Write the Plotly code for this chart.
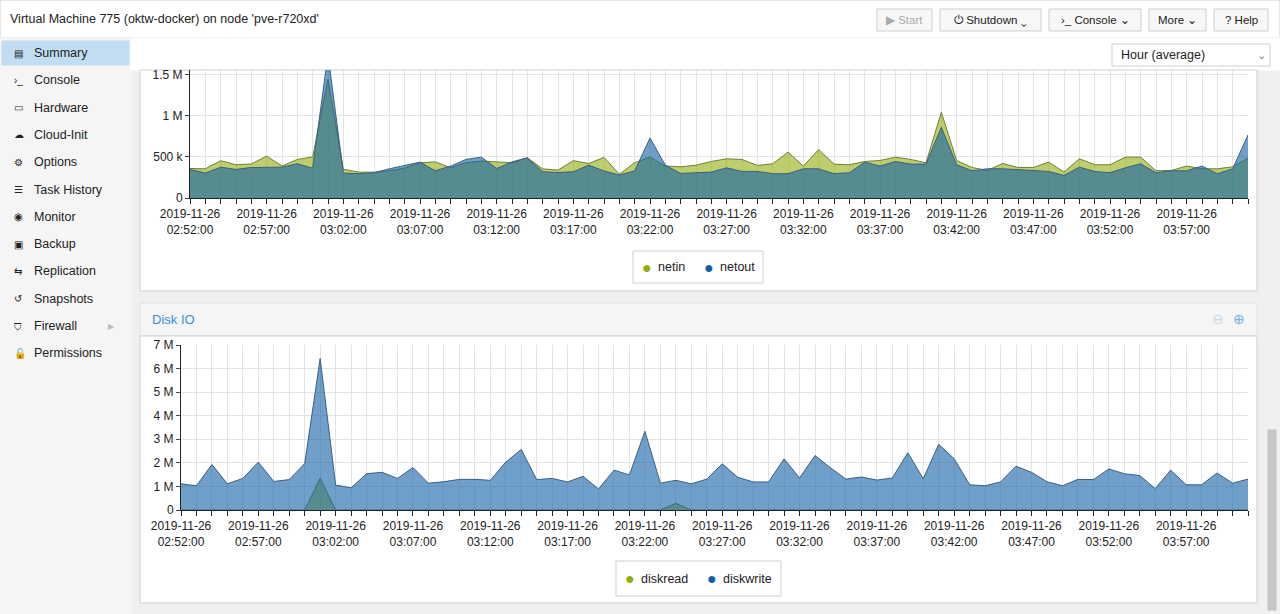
import pandas as pd
import numpy as np
import plotly.graph_objects as go

W, H = 1280, 614

def px(x):
    return x / W

def py(y):
    return 1 - y / H

def box(fig, x0, y0, x1, y1, fill="white", line="#cfcfcf"):
    fig.add_shape(type="rect", xref="paper", yref="paper", x0=px(x0), y0=py(y0), x1=px(x1), y1=py(y1),
                  fillcolor=fill, line=dict(color=line, width=1), layer="below")

def text(fig, x, y, s, size=12, color="#222", anchor="left"):
    fig.add_annotation(xref="paper", yref="paper", x=px(x), y=py(y), text=s, showarrow=False,
                       xanchor=anchor, yanchor="middle", font=dict(size=size, color=color))

def chrome(fig):
    # page frame
    box(fig, 0, 0, 1280, 614, fill="#f0f0f0", line="#f0f0f0")
    box(fig, 0, 0, 1280, 38, fill="white", line="#d0d0d0")
    text(fig, 8, 19, "Virtual Machine 775 (oktw-docker) on node 'pve-r720xd'", 12.5)
    for x0, x1, s, c in [(877, 932, "▶ Start", "#aaa"), (940, 1041, "⏻ Shutdown ⌄", "#222"),
                         (1049, 1141, "›_ Console ⌄", "#222"), (1149, 1206, "More ⌄", "#222"),
                         (1214, 1268, "? Help", "#222")]:
        box(fig, x0, 9, x1, 31, fill="#f7f7f7", line="#cfcfcf")
        text(fig, (x0 + x1) / 2, 20, s, 11.5, c, "center")
    # sidebar
    box(fig, 0, 38, 131, 614, fill="#f5f5f5", line="#f5f5f5")
    box(fig, 2, 41, 129, 65, fill="#c2ddf2", line="#c2ddf2")
    items = ["Summary", "Console", "Hardware", "Cloud-Init", "Options", "Task History", "Monitor",
             "Backup", "Replication", "Snapshots", "Firewall", "Permissions"]
    icons = ["▤", "›_", "▭", "☁", "⚙", "☰", "◉", "▣", "⇆", "↺", "⛉", "🔓"]
    for i, (s, ic) in enumerate(zip(items, icons)):
        y = 53 + i * 27.3
        text(fig, 12, y, ic, 10)
        text(fig, 32, y, s, 12.5)
    text(fig, 111, 326, "▶", 8, "#bbb", "center")
    # toolbar
    box(fig, 131, 38, 1280, 70, fill="white", line="white")
    box(fig, 1112, 44, 1270, 66, fill="white", line="#cfcfcf")
    text(fig, 1119, 55, "Hour (average)", 12.5)
    text(fig, 1261, 55, "⌄", 11, "#888", "center")
    # panels
    box(fig, 140, 70, 1257, 291)
    box(fig, 140, 303, 1257, 336, fill="#f5f5f5", line="#e0e0e0")
    text(fig, 150, 319, "Disk IO", 13, "#3892d4")
    text(fig, 1218, 319, "⊖", 14, "#c8d8e8", "center")
    text(fig, 1239, 319, "⊕", 14, "#7aaedc", "center")
    box(fig, 140, 336, 1257, 603)
    # scrollbar
    box(fig, 1268, 430, 1276, 610, fill="#c6c6c6", line="#c6c6c6")

def legend(fig, x0, x1, y0, y1, names):
    box(fig, x0, y0, x1, y1, fill="white", line="#cfcfcf")
    x = x0 + 14
    for n, c in names:
        text(fig, x, (y0 + y1) / 2, "●", 16, c, "center")
        text(fig, x + 9, (y0 + y1) / 2, n, 12.5)
        x += 62 if n == "netin" else 82

times = pd.date_range("2019-11-26 02:52:00", periods=70, freq="min")

netin = [360, 355, 455, 405, 415, 510, 390, 470, 500, 1450, 350, 315, 315, 330, 365, 430, 440, 370, 430, 450,
         440, 430, 490, 355, 340, 455, 420, 495, 290, 430, 500, 390, 380, 400,
         445, 478, 470, 397, 417, 559, 389, 591, 413, 405, 445, 457, 498, 470, 429, 1045, 457, 372,
         336, 421, 372, 372, 437, 316, 478, 405, 405, 498, 498, 332, 336, 389, 356, 356, 380, 486]
netout = [348, 304, 376, 348, 372, 376, 376, 417, 364, 1750, 304, 296, 308, 356, 400, 437, 332, 389, 470, 498,
          360, 440, 490, 320, 310, 320, 400, 330, 280, 330, 730, 400, 300, 310,
          316, 368, 324, 324, 296, 296, 356, 356, 296, 308, 437, 389, 445, 413, 413, 862, 405, 332,
          356, 356, 348, 336, 324, 275, 376, 324, 308, 368, 417, 308, 332, 332, 389, 296, 356, 769]
diskwrite = [1.11, 1.03, 1.93, 1.11, 1.34, 2.03, 1.21, 1.29, 1.97, 6.43, 1.06, 0.94, 1.54, 1.6, 1.34, 1.8,
             1.14, 1.2, 1.3, 1.3, 1.26, 2.03, 2.57, 1.29, 1.34, 1.19, 1.43, 0.89, 1.69, 1.49, 3.34, 1.14,
             1.26, 1.11, 1.31, 1.96, 1.39, 1.19, 1.19, 2.17, 1.36, 2.31, 1.79, 1.31, 1.4, 1.27, 1.36, 2.43,
             1.33, 2.79, 2.17, 1.07, 1.03, 1.19, 1.86, 1.6, 1.2, 1.03, 1.3, 1.29, 1.74, 1.54, 1.46, 0.91,
             1.69, 1.07, 1.07, 1.57, 1.14, 1.31]
diskread = [0.0] * 70
diskread[9] = 1.35  # spike at 03:01
diskread[32] = 0.28

df = pd.DataFrame({"time": times, "netin": np.array(netin) * 1e3, "netout": np.array(netout) * 1e3,
                   "diskread": np.array(diskread) * 1e6, "diskwrite": np.array(diskwrite) * 1e6})

GREEN = "rgba(148,174,10,0.6)"
BLUE = "rgba(17,95,166,0.6)"

fig = go.Figure()
chrome(fig)
for col, fc, lc, ax in [("netin", GREEN, "#6f7f3a", "x"), ("netout", BLUE, "#3c5f7f", "x"),
                        ("diskread", GREEN, "#6f7f3a", "x2"), ("diskwrite", BLUE, "#3c5f7f", "x2")]:
    fig.add_trace(go.Scatter(x=df["time"], y=df[col], fill="tozeroy", fillcolor=fc, mode="lines",
                             line=dict(color=lc, width=1), xaxis=ax, yaxis="y" if ax == "x" else "y2",
                             showlegend=False))

tickvals = list(times)
ticktext = [t.strftime("%Y-%m-%d<br>%H:%M:%S") if i % 5 == 0 else "" for i, t in enumerate(times)]
xcommon = dict(type="date", tickvals=tickvals, ticktext=ticktext, showgrid=True, gridcolor="#e3e3e3",
               ticks="outside", ticklen=5, tickcolor="#222", showline=True, linecolor="#222", automargin=False,
               tickfont=dict(size=12, color="#222"), range=[times[0], times[-1]], fixedrange=True)
fig.update_layout(
    width=W, height=H, margin=dict(l=0, r=0, t=0, b=0, autoexpand=False), plot_bgcolor="white",
    paper_bgcolor="#f0f0f0", font=dict(family="Liberation Sans, Arial", color="#222"),
    xaxis=dict(xcommon, domain=[px(190), px(1248)], anchor="y"),
    yaxis=dict(domain=[py(198), py(70)], range=[0, 1.56e6], tickvals=[0, 5e5, 1e6, 1.5e6],
               ticktext=["0", "500 k", "1 M", "1.5 M"], gridcolor="#e3e3e3", ticks="outside", ticklen=4,
               showline=True, linecolor="#222", zeroline=False, anchor="x", tickfont=dict(size=12),
               automargin=False),
    xaxis2=dict(xcommon, domain=[px(181), px(1248)], anchor="y2"),
    yaxis2=dict(domain=[py(510), py(345)], range=[0, 7e6], tickvals=[i * 1e6 for i in range(8)],
                ticktext=["0"] + [f"{i} M" for i in range(1, 8)], gridcolor="#e3e3e3", ticks="outside",
                ticklen=4, showline=True, linecolor="#222", zeroline=False, anchor="x2", tickfont=dict(size=12),
                automargin=False),
)
legend(fig, 633, 763, 251, 283, [("netin", "#94ae0a"), ("netout", "#115fa6")])
legend(fig, 616, 781, 561, 596, [("diskread", "#94ae0a"), ("diskwrite", "#115fa6")])

fig.write_html("out.html", config={"displayModeBar": False},
               post_script="document.body.style.margin='0px';document.body.style.overflow='hidden';")
